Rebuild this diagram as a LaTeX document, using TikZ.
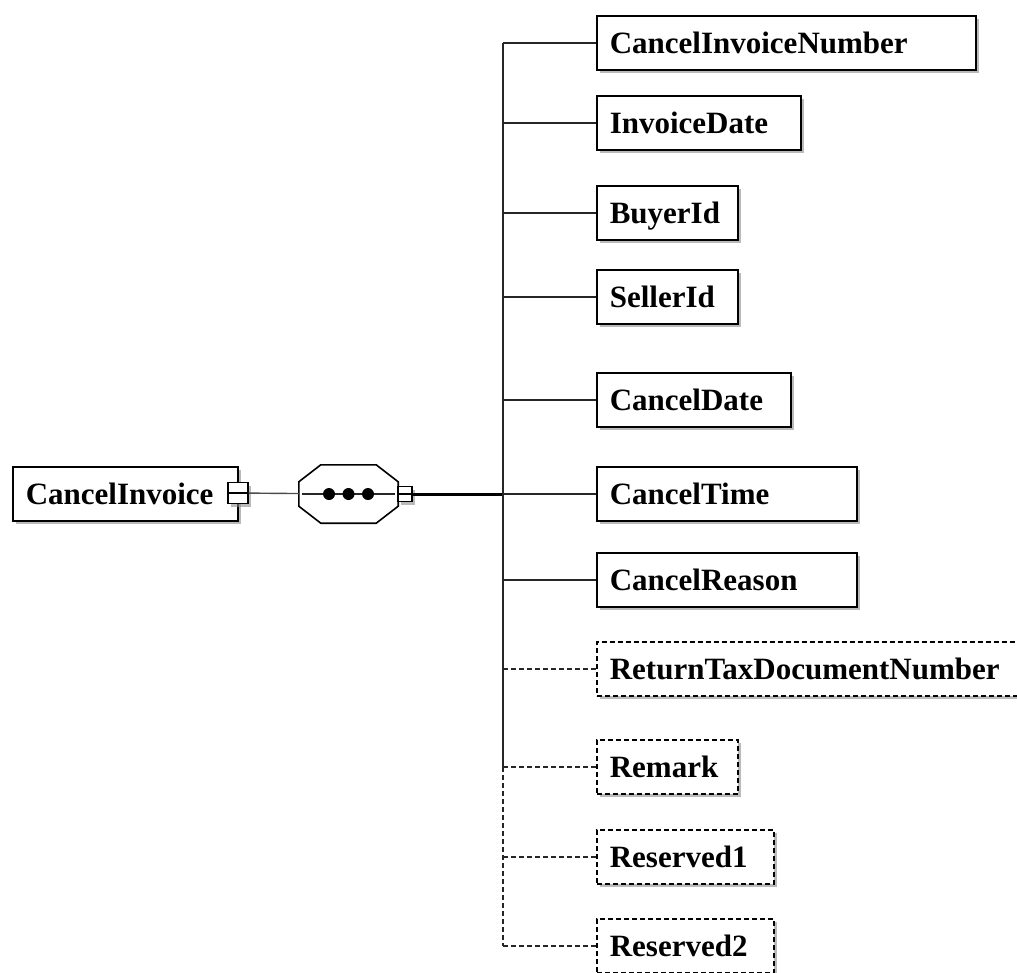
\documentclass[tikz,border=0pt]{standalone}
\usepackage{fontspec}
\setmainfont{Liberation Serif}
\usetikzlibrary{shadows}
\begin{document}
\begin{tikzpicture}[x=1pt, y=-1pt,
  shadowed/.style={drop shadow={shadow xshift=3pt, shadow yshift=-3pt, fill=black!45, opacity=0.6}},
  elem/.style={draw, line width=1.6pt, fill=white, anchor=west, align=left,
    minimum height=54pt, inner xsep=13pt, inner ysep=0pt, text height=20.5pt, text depth=0pt,
    font=\fontsize{31}{36}\selectfont\bfseries, shadowed},
  optional/.style={elem, dash pattern=on 5pt off 3pt},
  expander/.style={draw, fill=white, line width=1.4pt, inner sep=0pt, shadowed,
    path picture={\draw[line width=1.2pt] (path picture bounding box.west) -- (path picture bounding box.east);}},
  link/.style={line width=1.4pt, black!85},
  optlink/.style={link, dash pattern=on 5pt off 3pt}]
\useasboundingbox (0,0) rectangle (1017,972);

% root element
\node[elem, text width=199pt] (root) at (12,494) {CancelInvoice};
\node[expander, minimum width=20pt, minimum height=21pt] (rootexp) at (238,493) {};

% sequence compositor
\node[minimum width=99pt, minimum height=58pt, inner sep=0pt] (seq) at (348.5,494) {};
\draw[line width=1.6pt, fill=white] ([xshift=22pt]seq.north west) -- ([xshift=-22pt]seq.north east)
  -- ([yshift=-17pt]seq.north east) -- ([yshift=17pt]seq.south east)
  -- ([xshift=-22pt]seq.south east) -- ([xshift=22pt]seq.south west)
  -- ([yshift=17pt]seq.south west) -- ([yshift=-17pt]seq.north west) -- cycle;
\draw[link] ([xshift=3pt]seq.west) -- ([xshift=-3pt]seq.east);
\foreach \dx in {-19.5, 0, 19.5}{
\fill ([xshift=\dx pt]seq.center) circle (6pt);
}
\node[expander, minimum width=14pt, minimum height=15pt] (seqexp) at (405,494) {};
\draw[link, black!70] (rootexp) -- (seq);

% child elements
\foreach \n/\t/\y/\w in {cin/CancelInvoiceNumber/43/353, idate/InvoiceDate/123/178,
  buyer/BuyerId/213/115, seller/SellerId/297/115, cdate/CancelDate/400/168,
  ctime/CancelTime/494/234, creason/CancelReason/580/234}{
\node[elem, text width=\w pt] (\n) at (596,\y) {\t};
}
\foreach \n/\t/\y/\w in {rtdn/ReturnTaxDocumentNumber/669/480, rmk/Remark/767/115,
  rsv1/Reserved1/857/151, rsv2/Reserved2/946/151}{
\node[optional, text width=\w pt] (\n) at (596,\y) {\t};
}

% tree lines
\coordinate (hub) at (503,494);
\draw[line width=3pt] (seqexp) -- (hub);
\draw[link] (hub |- cin.west) -- (hub |- rmk.west);
\draw[optlink] (hub |- rmk.west) -- (hub |- rsv2.west);
\foreach \n in {cin, idate, buyer, seller, cdate, ctime, creason}{
\draw[link] (hub |- \n.west) -- (\n.west);
}
\foreach \n in {rtdn, rmk, rsv1, rsv2}{
\draw[optlink] (hub |- \n.west) -- (\n.west);
}
\end{tikzpicture}
\end{document}
